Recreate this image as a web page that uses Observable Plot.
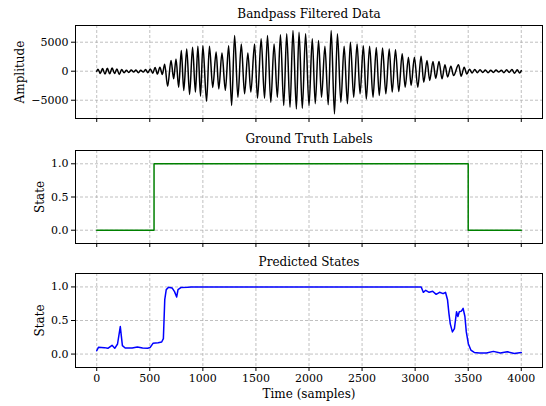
<!DOCTYPE html>
<html><head><meta charset="utf-8">
<script src="https://cdn.jsdelivr.net/npm/d3@7"></script>
<script src="https://cdn.jsdelivr.net/npm/@observablehq/plot@0.6"></script>
<style>
body{margin:0;background:#fff;}
#c{position:relative;width:546px;height:406px;font-family:"DejaVu Serif";}
#c svg{position:absolute;left:0;}
</style></head><body><div id="c"></div>
<script>
const xTicks = [0, 500, 1000, 1500, 2000, 2500, 3000, 3500, 4000];
const ampTicks = [-5000, 0, 5000];
const stateTicks = [0, 0.5, 1];

// Bandpass filtered data: peaks and troughs [sample, amplitude]
const bpSamples = [0,12,33,55,78,100,122,145,168,190,212,235,258,280,302,325,348,370,392,415,438,460,482,
  505,528,550,572,595,618,640,668,700,725,747,772,797,820,848,875,903,930,953,978,1000,1035,1062,1093,1125,1150,1180,1212,1243,1271,1299,1330,1362,1393,1424,1452,1487,1515,1549,1581,1609,1640,1671,1702,1731,1762,1790,1821,1849,1881,1906,1937,1968,2000,2031,2059,2090,2118,2150,2181,2209,2240,2268,2300,2331,2362,2390,2421,2453,2481,2512,2540,2571,2603,2634,2662,2693,2724,2756,2784,2815,2846,2878,2906,2937,2962,2993,3025,3056,3081,3112,3137,3168,3194,3225,3253,3281,3306,3337,3362,3409,3434,3462,3487,
  3512,3537,3562,3587,3612,3637,3662,3687,3712,3737,3762,3787,3812,3837,3862,3887,3912,3937,3962,3985,4000];
const bpValues = [0,350,-400,450,-500,500,-450,550,-400,400,-550,300,-250,150,-200,200,-150,200,-250,150,-150,300,-250,
  400,-350,650,-500,700,-550,1200,-2600,1840,-1300,2100,-2760,3560,-3340,3850,-4000,4140,-3600,4300,-4300,4400,-5200,4300,-2800,3300,-3050,3160,-3300,4400,-5900,6150,-4500,4700,-3900,3160,-3600,4700,-4650,5580,-4650,6150,-5350,4700,-4500,6270,-5900,6440,-6200,7000,-6500,6700,-6400,6440,-5900,5580,-5600,5300,-4500,4300,-5800,7000,-7360,6440,-5350,4300,-5600,5000,-4500,4700,-3900,4400,-4800,4300,-4500,4100,-4200,4000,-3900,3850,-3600,3700,-3500,3000,-2760,2400,-2470,2400,-2760,2600,-1900,1840,-1600,1670,-1200,1670,-1300,1100,-1000,860,-750,1100,-860,700,-500,
  350,-300,300,-250,250,-200,200,-250,150,-200,200,-150,150,-250,250,-200,300,-350,250,-300,100];

const truthSamples = [0, 540, 3500, 4000];
const truthStates = [0, 1, 0, 0];

const predSamples = [0,16,72,105,131,144,170,196,222,242,268,334,383,432,481,504,530,579,612,628,641,655,677,710,733,753,766,792,858,890,3057,3077,3100,3132,3165,3198,3230,3263,3286,3305,3318,3331,3351,3370,3390,3403,3416,3436,3452,3469,3482,3502,3525,3557,3606,3672,3737,3803,3868,3934,4000];
const predStates = [0.05,0.10,0.096,0.086,0.116,0.13,0.086,0.15,0.41,0.126,0.09,0.09,0.106,0.09,0.086,0.10,0.16,0.17,0.18,0.23,0.81,0.96,0.995,0.985,0.93,0.85,0.96,0.99,0.995,1.0,1.0,0.92,0.95,0.92,0.935,0.89,0.92,0.90,0.92,0.81,0.61,0.45,0.33,0.38,0.63,0.56,0.63,0.64,0.68,0.56,0.33,0.15,0.06,0.025,0.015,0.015,0.04,0.015,0.035,0.01,0.025];

const bp = bpSamples.map((s, i) => ({s, v: bpValues[i]}));
const truth = truthSamples.map((s, i) => ({s, v: truthStates[i]}));
const pred = predSamples.map((s, i) => ({s, v: predStates[i]}));

const font = "DejaVu Serif";
const gridStyle = {stroke: "#b0b0b0", strokeOpacity: 1, strokeDasharray: "3,2", strokeWidth: 0.8};

function panel({top, height, mt, mb, ydomain, yticks, yfmt, line, title, ylabel, ylabelX, showX, xlabel}) {
  const marks = [
    Plot.gridX(xTicks, gridStyle),
    Plot.gridY(yticks, gridStyle),
    line,
    Plot.frame({stroke: "black", strokeWidth: 1}),
    Plot.axisX(xTicks, {tickSize: 4, tickPadding: 3, fontSize: 11, tickFormat: showX ? (d => String(d)) : (() => ""), label: null}),
    Plot.axisY(yticks, {tickSize: 4, tickPadding: 3, fontSize: 11, tickFormat: yfmt, label: null}),
    Plot.text([title], {frameAnchor: "top", lineAnchor: "middle", dy: -11, fontSize: 12, fill: "black"}),
    Plot.text([ylabel], {frameAnchor: "left", textAnchor: "middle", lineAnchor: "middle", dx: -(75 - ylabelX), rotate: -90, fontSize: 12, fill: "black"})
  ];
  if (xlabel) marks.push(Plot.text([xlabel], {frameAnchor: "bottom", lineAnchor: "middle", dy: 27, fontSize: 12, fill: "black"}));
  const svg = Plot.plot({
    width: 546, height,
    marginLeft: 75, marginRight: 4, marginTop: mt, marginBottom: mb,
    x: {domain: [-200, 4200]},
    y: {domain: ydomain},
    style: {fontFamily: font, fontSize: "11px", color: "black", background: "transparent", overflow: "visible"},
    marks
  });
  svg.style.top = top + "px";
  document.getElementById("c").appendChild(svg);
}

panel({top: 0, height: 130, mt: 25, mb: 12, ydomain: [-8150, 7880], yticks: ampTicks, yfmt: d => String(d).replace("-", "\u2212"),
  line: Plot.line(bp, {x: "s", y: "v", stroke: "black", strokeWidth: 1.5, curve: "monotone-x"}),
  title: "Bandpass Filtered Data", ylabel: "Amplitude", ylabelX: 20, showX: false});

panel({top: 130, height: 125, mt: 20, mb: 12, ydomain: [-0.2, 1.2], yticks: stateTicks, yfmt: d => d.toFixed(1),
  line: Plot.line(truth, {x: "s", y: "v", stroke: "#008000", strokeWidth: 1.5, curve: "step-after"}),
  title: "Ground Truth Labels", ylabel: "State", ylabelX: 40, showX: false});

panel({top: 255, height: 151, mt: 18, mb: 39, ydomain: [-0.2, 1.2], yticks: stateTicks, yfmt: d => d.toFixed(1),
  line: Plot.line(pred, {x: "s", y: "v", stroke: "#0000ff", strokeWidth: 1.5, curve: "linear"}),
  title: "Predicted States", ylabel: "State", ylabelX: 40, showX: true, xlabel: "Time (samples)"});
</script></body></html>
